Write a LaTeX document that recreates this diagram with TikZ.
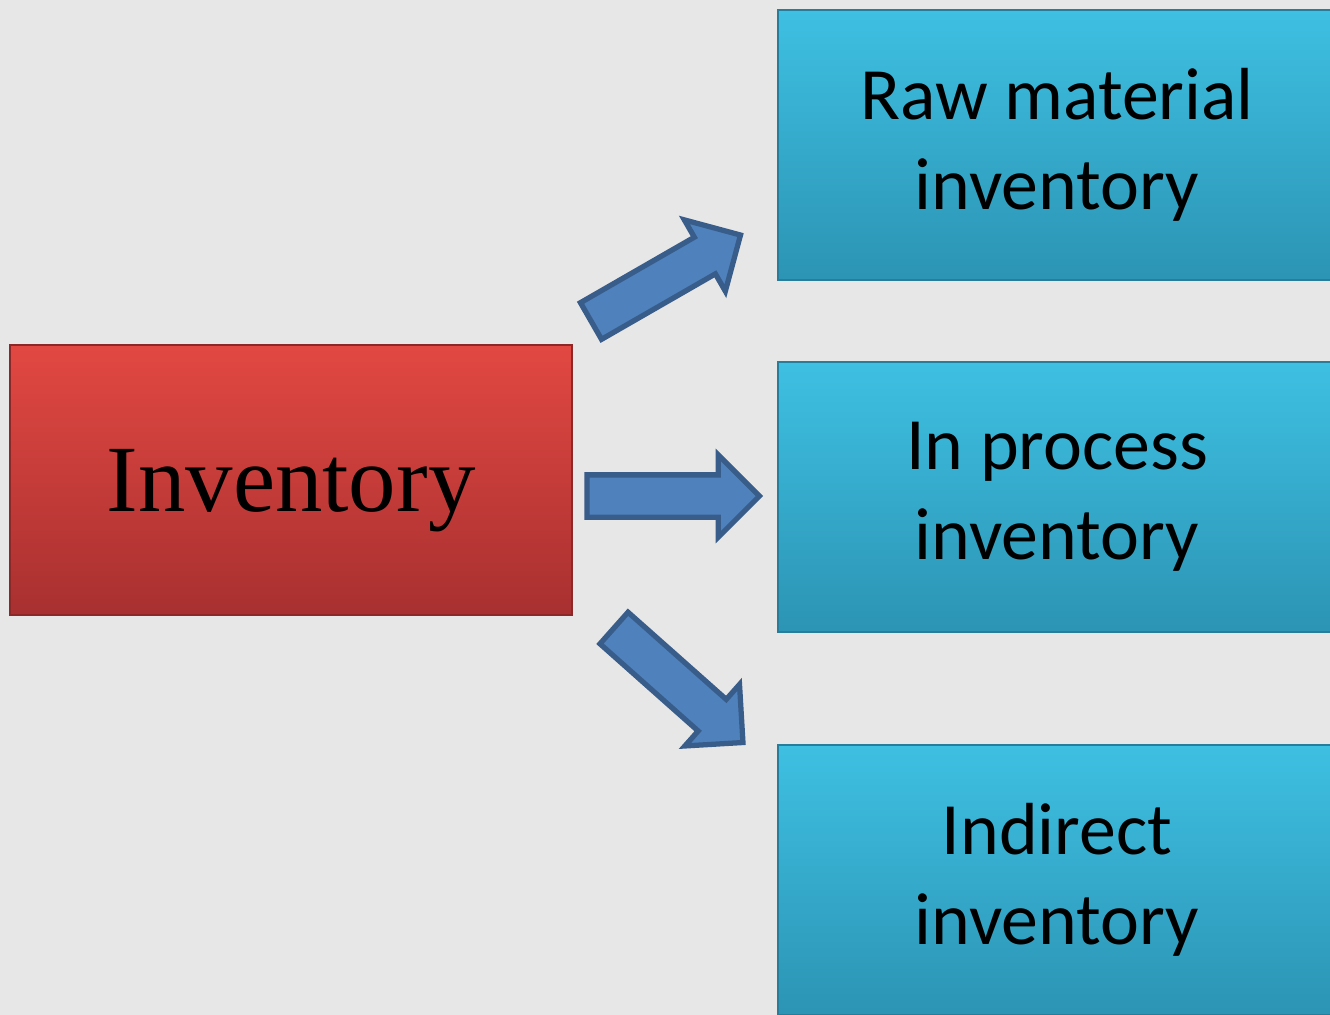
\documentclass[tikz,border=0pt]{standalone}
\usepackage{fontspec}
\setmainfont{Carlito}
\newfontfamily\serifnote{Liberation Serif}
\usetikzlibrary{shapes.arrows}
\definecolor{bgcol}{RGB}{231,231,231}
\definecolor{redtop}{RGB}{226,72,66}
\definecolor{redbot}{RGB}{168,48,48}
\definecolor{redline}{RGB}{140,40,40}
\definecolor{bluetop}{RGB}{62,192,226}
\definecolor{bluebot}{RGB}{44,148,180}
\definecolor{blueline}{RGB}{40,125,155}
\definecolor{arrfill}{RGB}{79,129,189}
\definecolor{arrline}{RGB}{56,93,138}
\tikzset{
  rootbox/.style={rectangle, draw=redline, line width=1pt, top color=redtop,
                  bottom color=redbot, minimum width=11.24cm, minimum height=5.4cm,
                  inner sep=0pt, text depth=0pt,
                  font=\serifnote\fontsize{54}{60}\selectfont},
  kindbox/.style={rectangle, draw=blueline, line width=1pt, top color=bluetop,
                  bottom color=bluebot, minimum width=11.16cm, minimum height=5.4cm,
                  inner sep=0pt, align=center, font=\fontsize{42}{51}\selectfont},
  fatarr/.style={single arrow, draw=arrline, line width=3pt, fill=arrfill,
                 minimum height=3.45cm, single arrow head extend=0.4cm,
                 inner xsep=0pt, inner ysep=0.37cm, outer sep=0pt, anchor=tail},
}
\begin{document}
\begin{tikzpicture}[x=0.02cm, y=-0.02cm]
  \useasboundingbox (0,0) rectangle (1330,1015);
  \fill[bgcol] (0,0) rectangle (1330,1015);
  \clip (0,0) rectangle (1330,1015);
  \node[rootbox] (inv) at (291,480) {Inventory};
  \node[kindbox] (raw) at (1057,145) {Raw material\\inventory};
  \node[kindbox] (proc) at (1057,497) {In process\\inventory};
  \node[kindbox] (indir) at (1057,880) {Indirect\\inventory};
  \node[fatarr, rotate=29.9] (toraw) at (591,321) {};
  \node[fatarr] (toproc) at (587,496) {};
  \node[fatarr, rotate=-41.6] (toindir) at (614,628) {};
\end{tikzpicture}
\end{document}
